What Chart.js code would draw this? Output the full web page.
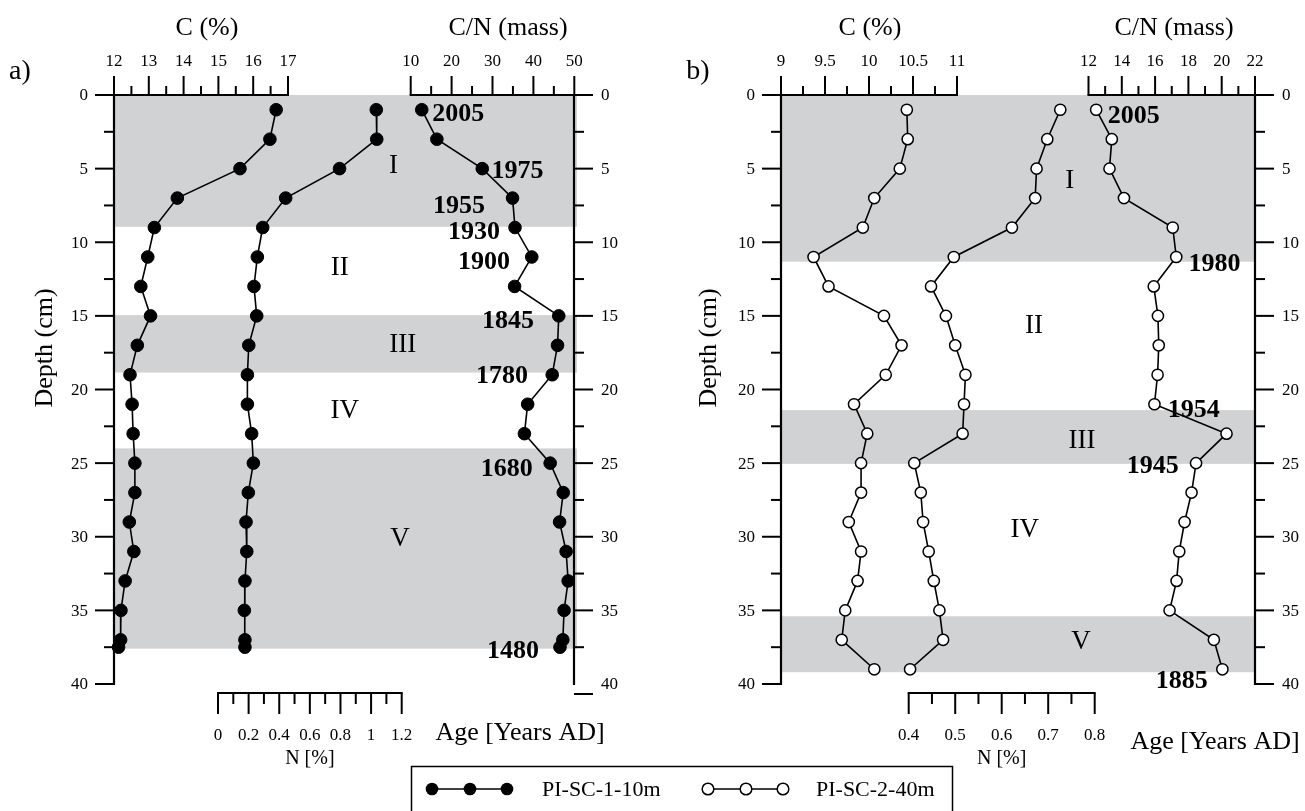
<!DOCTYPE html>
<html><head><meta charset="utf-8">
<script src="https://cdn.jsdelivr.net/npm/chart.js@4.4.0/dist/chart.umd.min.js"></script>
<style>
html,body{margin:0;padding:0;background:#fff;width:1305px;height:811px;overflow:hidden}
canvas.cv{position:absolute;left:0;top:0;width:1305px;height:811px}
</style></head><body>
<canvas id="ca" class="cv" width="1305" height="811"></canvas>
<canvas id="cb" class="cv" width="1305" height="811"></canvas>
<script>
// ---------------- DATA ----------------
// Panel a) PI-SC-1-10m
const depthA = [1,3,5,7,9,11,13,15,17,19,21,23,25,27,29,31,33,35,37,37.5];
const carbonA = [16.66,16.48,15.62,13.82,13.16,12.97,12.77,13.05,12.67,12.46,12.52,12.55,12.60,12.60,12.44,12.57,12.32,12.20,12.19,12.13];
const nitrogenA = [1.034,1.037,0.794,0.442,0.292,0.257,0.235,0.253,0.201,0.192,0.192,0.220,0.231,0.198,0.183,0.188,0.176,0.172,0.176,0.176];
const cnRatioA = [12.7,16.4,27.5,34.9,35.5,39.6,35.4,46.2,45.9,44.6,38.6,37.8,44.1,47.3,46.4,48.0,48.5,47.5,47.2,46.5];

// Panel b) PI-SC-2-40m
const depthB = [1,3,5,7,9,11,13,15,17,19,21,23,25,27,29,31,33,35,37,39];
const carbonB = [10.43,10.44,10.35,10.06,9.93,9.37,9.54,10.17,10.37,10.19,9.83,9.98,9.91,9.91,9.77,9.91,9.87,9.73,9.69,10.06];
const nitrogenB = [0.726,0.698,0.675,0.672,0.622,0.497,0.448,0.480,0.500,0.522,0.519,0.516,0.412,0.426,0.431,0.443,0.454,0.466,0.474,0.403];
const cnRatioB = [12.46,13.40,13.26,14.13,17.06,17.27,15.92,16.17,16.22,16.15,15.96,20.29,18.46,18.19,17.77,17.45,17.29,16.87,19.53,20.04];

// Tick labels
const depthTicks = ['0','5','10','15','20','25','30','35','40'];
const cTicksA = ['12','13','14','15','16','17'];
const cnTicksA = ['10','20','30','40','50'];
const nTicksA = ['0','0.2','0.4','0.6','0.8','1','1.2'];
const cTicksB = ['9','9.5','10','10.5','11'];
const cnTicksB = ['12','14','16','18','20','22'];
const nTicksB = ['0.4','0.5','0.6','0.7','0.8'];

// Zones (depth ranges shaded) and zone names
const zonesA = [[0,8.95],[14.95,18.85],[24.0,37.6]];
const zonesB = [[0,11.32],[21.4,25.05],[35.4,39.2]];
const zoneNames = ['I','II','III','IV','V'];
const zoneDepthA = [4.79,11.75,16.98,21.46,30.15];
const zoneCA = [20.03,18.49,20.30,18.63,20.22];
const zoneDepthB = [5.84,15.69,23.5,29.54,37.15];
const zoneCB = [12.28,11.875,12.42,11.77,12.41];

// Age (years AD) annotations, placed at depth / C/N value
const yearsA = ['2005','1975','1955','1930','1900','1845','1780','1680','1480'];
const yearDepthA = [1.29,5.16,7.54,9.34,11.38,15.35,19.08,25.40,37.76];
const yearCnA = [21.6,36.1,21.8,25.5,27.9,33.8,32.3,33.5,35.0];
const yearsB = ['2005','1980','1954','1945','1885'];
const yearDepthB = [1.43,11.48,21.39,25.19,39.83];
const yearCnB = [14.72,19.57,18.32,15.86,17.60];

const seriesNames = ['PI-SC-1-10m','PI-SC-2-40m'];

// ---------------- LAYOUT ----------------
const SERIF = "'Liberation Serif','Times New Roman',serif";
const BAND = '#d1d2d4';
const W = 1305, H = 811;

function rangeFor(v1,p1,v2,p2,L,R){
  const k=(v2-v1)/(p2-p1);
  return {min:v1+(L-p1)*k, max:v1+(R-p1)*k};
}

const panels = [
  {id:'a', tag:'a)', L:114, R:574, T:95, B:684, bandR:577,
   c:[12,114,17,288], cn:[10,410.7,50,574.3], n:[0,218,1.2,401.7],
   depth:depthA, C:carbonA, N:nitrogenA, CN:cnRatioA,
   cT:cTicksA, cnT:cnTicksA, nT:nTicksA, zones:zonesA,
   zD:zoneDepthA, zC:zoneCA, years:yearsA, yD:yearDepthA, yCN:yearCnA,
   filled:true, offsetLast:true, tagPos:[20,72], depthTitle:[45,348],
   cTitleX:207, cnTitleX:508, ageX:520, ageY:733},
  {id:'b', tag:'b)', L:781, R:1255, T:95, B:684, bandR:1255,
   c:[9,781,11,957], cn:[12,1088.5,22,1255], n:[0.4,908.7,0.8,1094.7],
   depth:depthB, C:carbonB, N:nitrogenB, CN:cnRatioB,
   cT:cTicksB, cnT:cnTicksB, nT:nTicksB, zones:zonesB,
   zD:zoneDepthB, zC:zoneCB, years:yearsB, yD:yearDepthB, yCN:yearCnB,
   filled:false, offsetLast:false, tagPos:[698,72], depthTitle:[709,348],
   cTitleX:870, cnTitleX:1174, ageX:1215, ageY:742}
];

function seg(ctx,x1,y1,x2,y2){ctx.beginPath();ctx.moveTo(x1,y1);ctx.lineTo(x2,y2);ctx.stroke();}
function mids(arr){const m=[];for(let i=0;i<arr.length-1;i++)m.push((+arr[i]+ +arr[i+1])/2);return m;}

function makePlugin(P){
  return {
    id:'panel_'+P.id,
    beforeDatasetsDraw(chart){
      const ctx=chart.ctx, ys=chart.scales.y, L=chart.chartArea.left;
      ctx.save(); ctx.fillStyle=BAND;
      P.zones.forEach(z=>{
        const y1=ys.getPixelForValue(z[0]), y2=ys.getPixelForValue(z[1]);
        ctx.fillRect(L,y1,P.bandR-L,y2-y1);
      });
      ctx.restore();
    },
    afterDatasetsDraw(chart){
      const ctx=chart.ctx, a=chart.chartArea, ys=chart.scales.y;
      const xc=chart.scales.xC, xcn=chart.scales.xCN, xn=chart.scales.xN;
      const L=a.left, R=a.right, T=a.top, B=a.bottom;
      ctx.save();
      ctx.strokeStyle='#000'; ctx.fillStyle='#000'; ctx.lineCap='butt';
      ctx.lineWidth=2.2;
      seg(ctx,L,T-1,L,B+1); seg(ctx,R,T-1,R,B+1);
      const cLast=xc.getPixelForValue(+P.cT[P.cT.length-1]);
      seg(ctx,L-19,T,cLast+1,T);
      const cnFirst=xcn.getPixelForValue(+P.cnT[0]);
      seg(ctx,cnFirst-1,T,R+19,T);
      ctx.lineWidth=2;
      ctx.font='17px '+SERIF;
      depthTicks.forEach((t,i)=>{
        const py=ys.getPixelForValue(+t);
        if(i>0) seg(ctx,L-19,py,L,py);
        let pr=py;
        if(i===depthTicks.length-1 && P.offsetLast){ pr=py+10; }
        if(i>0) seg(ctx,R,pr,R+19,pr);
        ctx.textBaseline='middle';
        ctx.textAlign='right'; ctx.fillText(t,L-26,py+1);
        ctx.textAlign='left'; ctx.fillText(t,R+27,py+1);
      });
      mids(depthTicks).forEach(d=>{
        const py=ys.getPixelForValue(d);
        seg(ctx,L-10,py,L,py); seg(ctx,R,py,R+10,py);
      });
      function topAxis(scale,ticks){
        ticks.forEach(t=>{
          const px=scale.getPixelForValue(+t);
          seg(ctx,px,T-19,px,T);
          ctx.textAlign='center'; ctx.textBaseline='middle';
          ctx.fillText(t,px,T-33);
        });
        mids(ticks).forEach(v=>{const px=scale.getPixelForValue(v); seg(ctx,px,T-9,px,T);});
      }
      topAxis(xc,P.cT); topAxis(xcn,P.cnT);
      const yN=693;
      const n0=xn.getPixelForValue(+P.nT[0]), n1=xn.getPixelForValue(+P.nT[P.nT.length-1]);
      ctx.lineWidth=2.2; seg(ctx,n0-1,yN,n1+1,yN); ctx.lineWidth=2;
      P.nT.forEach(t=>{
        const px=xn.getPixelForValue(+t);
        seg(ctx,px,yN,px,yN+21);
        ctx.textAlign='center'; ctx.textBaseline='middle';
        ctx.fillText(t,px,736);
      });
      mids(P.nT).forEach(v=>{const px=xn.getPixelForValue(v); seg(ctx,px,yN,px,yN+11);});
      ctx.restore();
    },
    afterDraw(chart){
      const ctx=chart.ctx, ys=chart.scales.y, xc=chart.scales.xC, xcn=chart.scales.xCN, xn=chart.scales.xN;
      ctx.save(); ctx.fillStyle='#000'; ctx.textAlign='center'; ctx.textBaseline='middle';
      ctx.font='26px '+SERIF;
      ctx.fillText('C (%)',P.cTitleX,28);
      ctx.fillText('C/N (mass)',P.cnTitleX,28);
      ctx.fillText('Age [Years AD]',P.ageX,P.ageY);
      ctx.font='28px '+SERIF;
      ctx.fillText(P.tag,P.tagPos[0],P.tagPos[1]);
      ctx.font='20px '+SERIF;
      const nMid=(xn.getPixelForValue(+P.nT[0])+xn.getPixelForValue(+P.nT[P.nT.length-1]))/2;
      ctx.fillText('N [%]',nMid,759);
      ctx.save(); ctx.translate(P.depthTitle[0],P.depthTitle[1]); ctx.rotate(-Math.PI/2);
      ctx.font='26px '+SERIF; ctx.fillText('Depth (cm)',0,0); ctx.restore();
      ctx.font='27px '+SERIF;
      zoneNames.forEach((z,i)=>ctx.fillText(z,xc.getPixelForValue(P.zC[i]),ys.getPixelForValue(P.zD[i])));
      ctx.font='bold 26px '+SERIF;
      P.years.forEach((y,i)=>ctx.fillText(y,xcn.getPixelForValue(P.yCN[i]),ys.getPixelForValue(P.yD[i])));
      if(P.id==='b'){
        ctx.lineWidth=1.5; ctx.strokeStyle='#000';
        ctx.strokeRect(411.5,766.5,541,60);
        ctx.lineWidth=1.6;
        const ly=789;
        seg(ctx,432,ly,507,ly);
        [432,470,507].forEach(x=>{ctx.beginPath();ctx.arc(x,ly,6.3,0,Math.PI*2);ctx.fillStyle='#000';ctx.fill();});
        seg(ctx,708,ly,783,ly);
        [708,746,783].forEach(x=>{ctx.beginPath();ctx.arc(x,ly,5.8,0,Math.PI*2);ctx.fillStyle='#fff';ctx.fill();ctx.lineWidth=1.5;ctx.stroke();});
        ctx.fillStyle='#000'; ctx.font='22px '+SERIF; ctx.textAlign='left';
        ctx.fillText(seriesNames[0],542,ly+1);
        ctx.fillText(seriesNames[1],816,ly+1);
      }
      ctx.restore();
    }
  };
}

function buildChart(canvasId,P,label){
  const mk=(vals,axis)=>({
    label:label, xAxisID:axis, yAxisID:'y',
    data:P.depth.map((d,i)=>({x:vals[i],y:d})),
    borderColor:'#000', borderWidth:1.6,
    pointRadius:P.filled?6.3:5.6, pointHoverRadius:P.filled?6.3:5.6,
    pointBackgroundColor:P.filled?'#000':'#fff', pointBorderColor:'#000',
    pointBorderWidth:P.filled?1:1.5, fill:false, tension:0, clip:false
  });
  const rc=rangeFor(P.c[0],P.c[1],P.c[2],P.c[3],P.L,P.R);
  const rcn=rangeFor(P.cn[0],P.cn[1],P.cn[2],P.cn[3],P.L,P.R);
  const rn=rangeFor(P.n[0],P.n[1],P.n[2],P.n[3],P.L,P.R);
  return new Chart(document.getElementById(canvasId),{
    type:'line',
    data:{datasets:[mk(P.C,'xC'),mk(P.N,'xN'),mk(P.CN,'xCN')]},
    options:{
      responsive:false, animation:false, devicePixelRatio:1, indexAxis:'y',
      layout:{padding:{left:P.L,right:W-P.R,top:P.T,bottom:H-P.B}},
      scales:{
        y:{type:'linear',axis:'y',reverse:true,min:0,max:40,display:false},
        xC:{type:'linear',axis:'x',min:rc.min,max:rc.max,display:false},
        xN:{type:'linear',axis:'x',min:rn.min,max:rn.max,display:false},
        xCN:{type:'linear',axis:'x',min:rcn.min,max:rcn.max,display:false}
      },
      plugins:{legend:{display:false},tooltip:{enabled:false}},
      events:[]
    },
    plugins:[makePlugin(P)]
  });
}
buildChart('ca',panels[0],seriesNames[0]);
buildChart('cb',panels[1],seriesNames[1]);
</script>
</body></html>
